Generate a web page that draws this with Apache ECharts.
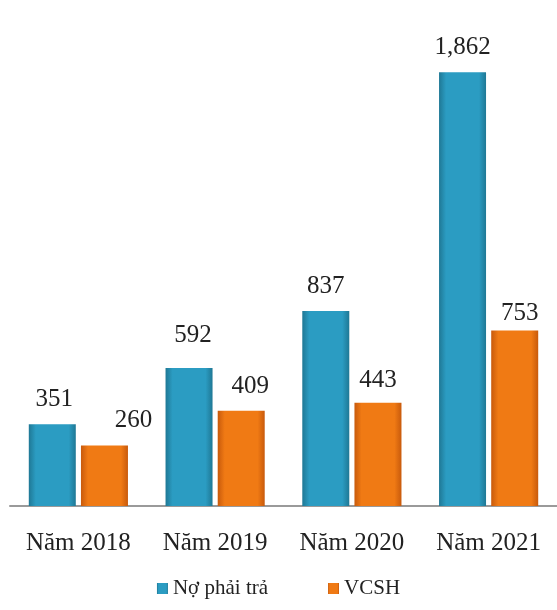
<!DOCTYPE html>
<html>
<head>
<meta charset="utf-8">
<script src="https://cdn.jsdelivr.net/npm/echarts@6/dist/echarts.min.js"></script>
<style>
  html, body { margin: 0; padding: 0; background: #fff; }
  #chart { width: 557px; height: 610px; }
</style>
</head>
<body>
<div id="chart"></div>
<script>
// du lieu (ty dong)
var years = ["Năm 2018", "Năm 2019", "Năm 2020", "Năm 2021"];
var noPhaiTra = [351, 592, 837, 1862];
var vcsh = [260, 409, 443, 753];

// lech nhan so lieu so voi dinh cot [x, y]
var noOffset = [[2, 0], [4, -8], [0, 0], [0, 0]];
var vcshOffset = [[29, 0], [9, 0], [0, 2], [5, 7]];

var chart = echarts.init(document.getElementById("chart"));

function barGrad(edge, mid) {
  return new echarts.graphic.LinearGradient(0, 0, 1, 0, [
    { offset: 0, color: edge },
    { offset: 0.15, color: mid },
    { offset: 0.85, color: mid },
    { offset: 1, color: edge },
  ]);
}

function withOffset(values, offsets) {
  return values.map(function (v, i) {
    return { value: v, label: { offset: offsets[i] } };
  });
}

var option = {
  textStyle: { fontFamily: "Liberation Serif" },
  grid: { left: 10, right: -2, top: 40, bottom: 104 },
  legend: {
    bottom: 6,
    left: "center",
    icon: "rect",
    itemWidth: 11,
    itemHeight: 11,
    itemGap: 60,
    textStyle: { fontSize: 21, color: "#222", fontFamily: "Liberation Serif" },
    data: ["Nợ phải trả", "VCSH"],
  },
  xAxis: {
    type: "category",
    data: years,
    axisLine: { lineStyle: { color: "#9a9a9a", width: 2 } },
    axisTick: { show: false },
    axisLabel: { fontSize: 25, color: "#222", margin: 25, fontFamily: "Liberation Serif" },
  },
  yAxis: {
    type: "value",
    min: 0,
    max: 2000,
    show: false,
    splitLine: { show: false },
  },
  series: [
    {
      name: "Nợ phải trả",
      type: "bar",
      barWidth: 47,
      barGap: "11%",
      data: withOffset(noPhaiTra, noOffset),
      itemStyle: {
        color: barGrad("#1f7895", "#2b9cc2"),
      },
      label: {
        show: true,
        position: "top",
        distance: 12,
        fontSize: 25,
        color: "#222",
        fontFamily: "Liberation Serif",
        formatter: function (p) {
          return p.value.toLocaleString("en-US");
        },
      },
    },
    {
      name: "VCSH",
      type: "bar",
      barWidth: 47,
      data: withOffset(vcsh, vcshOffset),
      itemStyle: {
        color: barGrad("#c85a0c", "#f07a14"),
      },
      label: {
        show: true,
        position: "top",
        distance: 12,
        fontSize: 25,
        color: "#222",
        fontFamily: "Liberation Serif",
      },
    },
  ],
};

chart.setOption(option);
</script>
</body>
</html>
